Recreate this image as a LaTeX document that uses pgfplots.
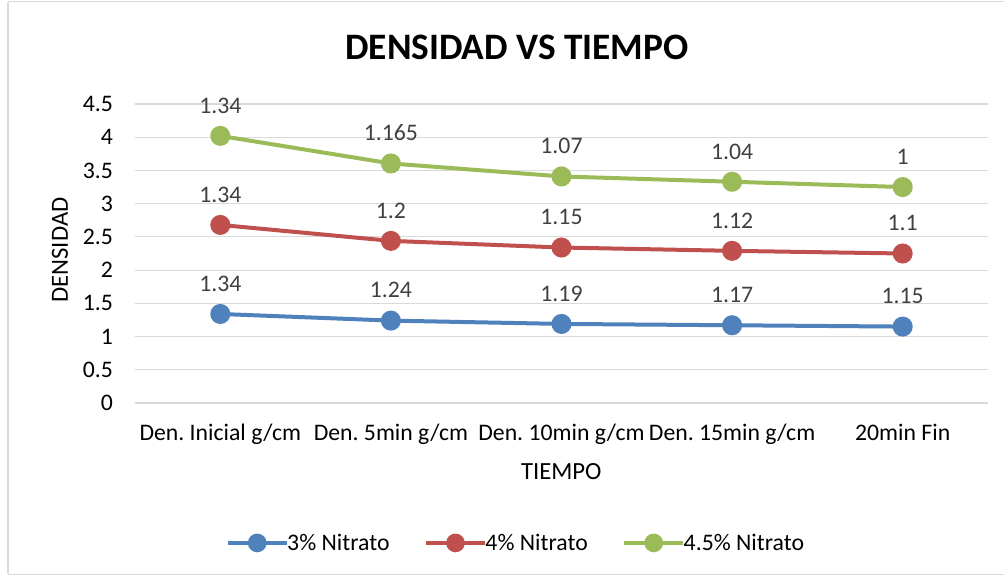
\documentclass[border=0pt]{standalone}
\usepackage{pgfplots}
\pgfplotsset{compat=1.18}
\usepackage{fontspec}
\setmainfont{Carlito}
\frenchspacing
\definecolor{sblue}{HTML}{4F81BD}
\definecolor{sred}{HTML}{C0504D}
\definecolor{sgreen}{HTML}{9BBB59}
\definecolor{gridc}{HTML}{D9D9D9}
\definecolor{lblc}{HTML}{404040}
\begin{document}
\begin{tikzpicture}
\path[use as bounding box] (0,0) rectangle (753pt,431.25pt);
\draw[gridc, line width=0.8pt] (6pt,430pt) -- (753pt,430pt);
\draw[gridc, line width=0.8pt] (6pt,0.5pt) -- (6pt,430pt);
\draw[gridc, line width=0.8pt] (6pt,0.5pt) -- (753pt,0.5pt);
\begin{axis}[
  at={(101.25pt,129pt)}, anchor=south west,
  scale only axis, width=639.75pt, height=224.25pt,
  xmin=-0.5, xmax=4.5, ymin=0, ymax=4.5,
  xtick=data,
  xticklabels={Den.\ Inicial g/cm, Den.\ 5min g/cm, Den.\ 10min g/cm, Den.\ 15min g/cm, 20min Fin},
  ytick={0,0.5,...,4.5},
  yticklabels={0,0.5,1,1.5,2,2.5,3,3.5,4,4.5},
  ymajorgrids, grid style={gridc, line width=0.9pt},
  axis line style={draw=none},
  tick style={draw=none},
  ticklabel style={font=\fontsize{17.8}{20}\selectfont},
  yticklabel style={xshift=-13pt},
  xticklabel style={yshift=-12pt},
  /pgf/number format/assume math mode=true,
  /pgf/number format/precision=3,
  stack plots=y,
  point meta=explicit,
  nodes near coords,
  nodes near coords style={font=\fontsize{17.8}{20}\selectfont, text=lblc, yshift=12pt},
  legend columns=3,
  legend style={at={(0.447,-0.468)}, anchor=center, draw=none, fill=none,
    font=\fontsize{17.8}{20}\selectfont,
    /tikz/every even column/.append style={column sep=24pt},
    /tikz/every odd column/.append style={column sep=-3pt}},
  legend image code/.code={
    \draw[#1, line width=3pt] (0pt,0pt) -- (44pt,0pt);
    \fill[#1] (22pt,0pt) circle (5.5pt);
  },
]
\addplot[sblue, line width=3pt, mark=*, mark size=6pt] coordinates {
  (0,1.34) [1.34] (1,1.24) [1.24] (2,1.19) [1.19] (3,1.17) [1.17] (4,1.15) [1.15]
};
\addlegendentry{3\% Nitrato}
\addplot[sred, line width=3pt, mark=*, mark size=6pt] coordinates {
  (0,1.34) [1.34] (1,1.2) [1.2] (2,1.15) [1.15] (3,1.12) [1.12] (4,1.1) [1.1]
};
\addlegendentry{4\% Nitrato}
\addplot[sgreen, line width=3pt, mark=*, mark size=6pt] coordinates {
  (0,1.34) [1.34] (1,1.165) [1.165] (2,1.07) [1.07] (3,1.04) [1.04] (4,1) [1]
};
\addlegendentry{4.5\% Nitrato}
\end{axis}
\node[font=\bfseries\fontsize{28}{32}\selectfont] at (387.75pt,396pt) {DENSIDAD VS TIEMPO};
\node[rotate=90, font=\fontsize{18.5}{20}\selectfont] at (45pt,243.75pt) {DENSIDAD};
\node[font=\fontsize{18.5}{20}\selectfont] at (421pt,77.25pt) {TIEMPO};
\end{tikzpicture}
\end{document}
